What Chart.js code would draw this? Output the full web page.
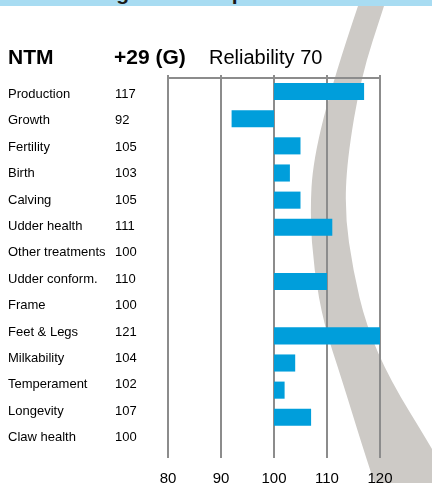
<!DOCTYPE html>
<html>
<head>
<meta charset="utf-8">
<script src="https://cdn.jsdelivr.net/npm/chart.js@4.4.0/dist/chart.umd.min.js"></script>
<style>
  html, body { margin: 0; padding: 0; background: #fff; overflow: hidden; width: 432px; height: 483px; }
  #wrap { position: relative; width: 432px; height: 500px; }
  #banner { position: absolute; left: 0; top: 0; width: 432px; height: 6px; background: #a8dcf2; overflow: hidden; z-index: 2; }
  #banner span { position: absolute; left: 38px; top: -19px; font: bold 21px "Liberation Sans", Arial, sans-serif; color: #1a1a1a; white-space: nowrap; }
  canvas { display: block; }
</style>
</head>
<body>
<div id="wrap">
  <div id="banner"><span>Breeding values of producers</span></div>
  <canvas id="ntmChart" width="432" height="500"></canvas>
</div>
<script>
const traits = ["Production", "Growth", "Fertility", "Birth", "Calving", "Udder health", "Other treatments",
  "Udder conform.", "Frame", "Feet & Legs", "Milkability", "Temperament", "Longevity", "Claw health"];
const indexValues = [117, 92, 105, 103, 105, 111, 100, 110, 100, 121, 104, 102, 107, 100];
const baseValue = 100;
const axisTicks = [80, 90, 100, 110, 120];
const headerName = "NTM";
const headerScore = "+29 (G)";
const headerReliability = "Reliability 70";

const font = '"Liberation Sans", Arial, sans-serif';
const gridGray = "#8c8c8c";

// grey swoosh behind the chart
const swoosh = {
  id: "swoosh",
  beforeDraw(chart) {
    const ctx = chart.ctx;
    const left = [[358, 6], [334, 77], [313, 160], [310, 215], [314, 270], [324, 325], [342, 380], [362, 445], [380, 500]];
    const right = [[462, 500], [430, 445], [390, 380], [366, 325], [353, 270], [345, 215], [347, 160], [361, 77], [384, 6]];
    ctx.save();
    ctx.fillStyle = "#cdcac6";
    ctx.beginPath();
    ctx.moveTo(left[0][0], left[0][1]);
    function smooth(list) {
      for (let i = 1; i < list.length - 1; i++) {
        const mx = (list[i][0] + list[i + 1][0]) / 2;
        const my = (list[i][1] + list[i + 1][1]) / 2;
        ctx.quadraticCurveTo(list[i][0], list[i][1], mx, my);
      }
      ctx.lineTo(list[list.length - 1][0], list[list.length - 1][1]);
    }
    smooth(left);
    ctx.lineTo(right[0][0], right[0][1]);
    smooth(right);
    ctx.closePath();
    ctx.fill();
    ctx.restore();
  }
};

// header and the two text columns on the left
const textColumns = {
  id: "textColumns",
  afterDraw(chart) {
    const ctx = chart.ctx;
    ctx.save();
    ctx.fillStyle = "#000";
    ctx.textBaseline = "alphabetic";
    ctx.font = "bold 21px " + font;
    ctx.fillText(headerName, 8, 64);
    ctx.fillText(headerScore, 114, 64);
    ctx.font = "20px " + font;
    ctx.fillText(headerReliability, 209, 64);

    ctx.font = "13px " + font;
    ctx.textBaseline = "middle";
    const rowTop = 94.5, rowStep = 26.4;
    traits.forEach((t, i) => {
      const y = rowTop + i * rowStep;
      ctx.fillText(t, 8, y);
      ctx.fillText(String(indexValues[i]), 115, y);
    });
    ctx.restore();
  }
};

new Chart(document.getElementById("ntmChart"), {
  type: "bar",
  data: {
    labels: traits,
    datasets: [{
      data: indexValues.map(v => [baseValue, v]),
      backgroundColor: "#009edb",
      borderWidth: 0,
      barPercentage: 0.63,
      categoryPercentage: 1
    }]
  },
  options: {
    responsive: false,
    animation: false,
    indexAxis: "y",
    layout: { padding: { top: 75, right: 52, left: 0, bottom: 0 } },
    plugins: { legend: { display: false }, tooltip: { enabled: false } },
    scales: {
      y: {
        ticks: { display: false },
        grid: { display: false },
        border: { display: false },
        afterFit: scale => { scale.width = 168; }
      },
      x: {
        type: "linear",
        position: "bottom",
        min: axisTicks[0],
        max: axisTicks[axisTicks.length - 1],
        afterBuildTicks: scale => { scale.ticks = axisTicks.map(v => ({ value: v })); },
        ticks: { padding: 12, color: "#000", font: { size: 15, family: font } },
        grid: { color: gridGray, lineWidth: 2, drawTicks: false },
        border: { display: false }
      },
      x2: {
        type: "linear",
        position: "top",
        min: axisTicks[0],
        max: axisTicks[axisTicks.length - 1],
        afterBuildTicks: scale => { scale.ticks = axisTicks.map(v => ({ value: v })); },
        ticks: { display: false },
        grid: { drawOnChartArea: false, color: gridGray, lineWidth: 2, tickLength: 3 },
        border: { display: true, color: gridGray, width: 2 }
      }
    }
  },
  plugins: [swoosh, textColumns]
});
</script>
</body>
</html>
